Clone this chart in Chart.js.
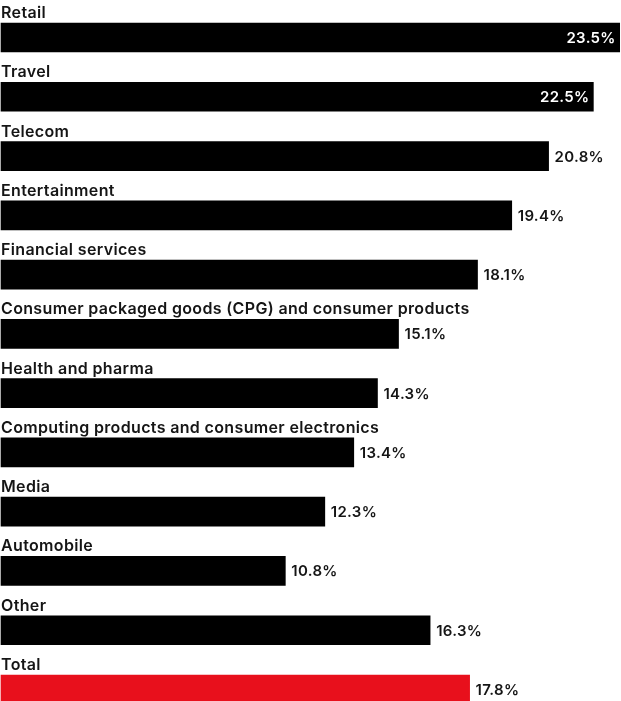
<!DOCTYPE html>
<html>
<head>
<meta charset="utf-8">
<script src="https://cdn.jsdelivr.net/npm/chart.js@4"></script>
<style>
  html, body { margin: 0; padding: 0; background: #fff; }
  #wrap { width: 621px; height: 701px; }
</style>
</head>
<body>
<div id="wrap"><canvas id="chart"></canvas></div>
<script>
// sector names and share values (%)
const categories = [
  'Retail',
  'Travel',
  'Telecom',
  'Entertainment',
  'Financial services',
  'Consumer packaged goods (CPG) and consumer products',
  'Health and pharma',
  'Computing products and consumer electronics',
  'Media',
  'Automobile',
  'Other',
  'Total'
];
const values = [23.5, 22.5, 20.8, 19.4, 18.1, 15.1, 14.3, 13.4, 12.3, 10.8, 16.3, 17.8];
const insideLabels = ['Retail', 'Travel']; // value text sits inside these bars

const barColors = categories.map((c) => (c === 'Total' ? '#e8101c' : '#000000'));

// draws the category name above each bar and the value at its end
const barText = {
  id: 'barText',
  afterDatasetsDraw(chart) {
    const ctx = chart.ctx;
    const meta = chart.getDatasetMeta(0);
    ctx.save();
    meta.data.forEach((bar, i) => {
      const top = bar.y - bar.height / 2;
      ctx.fillStyle = '#151515';
      ctx.font = '600 16px Inter, "Noto Sans", sans-serif';
      ctx.letterSpacing = '0.35px';
      ctx.textAlign = 'left';
      ctx.textBaseline = 'alphabetic';
      ctx.fillText(categories[i], 1, top - 5);

      ctx.font = '600 15px Inter, "Noto Sans", sans-serif';
      ctx.letterSpacing = '0.3px';
      ctx.textBaseline = 'middle';
      const txt = values[i].toFixed(1) + '%';
      if (insideLabels.includes(categories[i])) {
        ctx.fillStyle = '#ffffff';
        ctx.textAlign = 'right';
        ctx.fillText(txt, bar.x - 4, bar.y + 1);
      } else {
        ctx.fillStyle = '#151515';
        ctx.textAlign = 'left';
        ctx.fillText(txt, bar.x + 6, bar.y + 1);
      }
    });
    ctx.restore();
  }
};

new Chart(document.getElementById('chart'), {
  type: 'bar',
  data: {
    labels: categories,
    datasets: [{
      data: values,
      backgroundColor: barColors,
      borderWidth: 0,
      barThickness: 29,
      clip: false
    }]
  },
  options: {
    indexAxis: 'y',
    responsive: true,
    maintainAspectRatio: false,
    animation: false,
    layout: { padding: { left: 1, right: 0, top: 37.5, bottom: 11.5 } },
    plugins: {
      legend: { display: false },
      tooltip: { enabled: false }
    },
    scales: {
      x: {
        min: 0,
        max: 23.55,
        display: false,
        grid: { display: false }
      },
      y: {
        offset: false,
        display: false,
        grid: { display: false }
      }
    }
  },
  plugins: [barText]
});
</script>
</body>
</html>
